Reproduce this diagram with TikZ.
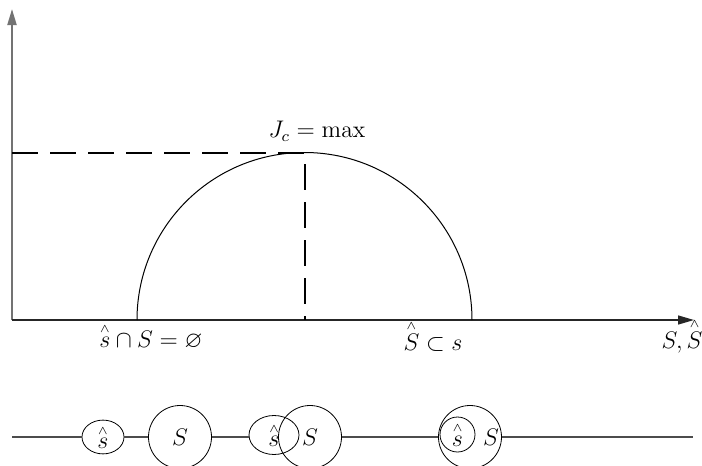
\documentclass[tikz,border=0pt]{standalone}
\usepackage{amsmath}
\usepackage{amssymb}
\usetikzlibrary{arrows.meta,shapes.geometric}

\newcommand{\sethat}[1]{\overset{\scriptscriptstyle\wedge}{#1}}

\tikzset{
  every node/.style={font=\fontsize{11.5pt}{14pt}\selectfont},
  axis/.style={-{Triangle[length=8pt,width=4.5pt]}},
  peakline/.style={line width=1.3pt, dash pattern=on 13pt off 6pt},
  smallset/.style={ellipse, draw, inner sep=0pt, minimum width=21pt, minimum height=15pt},
  bigset/.style={circle, draw, inner sep=0pt, minimum size=31.5pt}
}

\begin{document}
\begin{tikzpicture}[x=0.5pt, y=-0.5pt]
  \useasboundingbox (0,0) rectangle (702,466);
  \clip (0,0) rectangle (702,466);

  % Axes
  \coordinate (O) at (12,320);
  \coordinate (ytip) at (12,9);
  \coordinate (xtip) at (694,320);
  \draw[axis, black!55, line width=1pt] (O) -- (ytip);
  \draw[axis, black!85, line width=0.7pt] (O) -- (xtip);

  % Semicircle
  \draw[line width=0.5pt] (137,320) arc[start angle=180, end angle=0, radius=83.75pt];

  % Maximum
  \coordinate (top) at (305,153);
  \draw[peakline] (top -| O) -- (top) -- (top |- O);
  \node (peak) at (317,131) {$J_{c} = \max$};

  % Axis labels
  \node (disjoint) at (151,336) {$\sethat{s} \cap S = \varnothing$};
  \node (subset) at (433,336) {$\sethat{S} \subset s$};
  \node (xlabel) at (682,336) {$S, \sethat{S}$};

  % Sets below
  \coordinate (start) at (12,437);
  \coordinate (end) at (693,437);
  \node[smallset] (e1) at (103,437) {$\sethat{s}$};
  \node[bigset] (c1) at (180,437) {$S$};
  \node[smallset, minimum width=25pt, minimum height=19.5pt] (e2) at (274,435) {$\sethat{s}$};
  \node[bigset] (c2) at (310,437) {$S$};
  \node[bigset] (c3) at (470,437) {};
  \node[circle, draw, inner sep=0pt, minimum size=17.5pt] (c4) at (457.5,434.5) {$\sethat{s}$};
  \node (c3label) at (491,437) {$S$};

  \draw[black!70, line width=0.7pt] (start) -- (e1) -- (c1) -- (c1 -| e2.west);
  \draw[black!70, line width=0.7pt] (c2) -- (c3) -- (end);
\end{tikzpicture}
\end{document}
